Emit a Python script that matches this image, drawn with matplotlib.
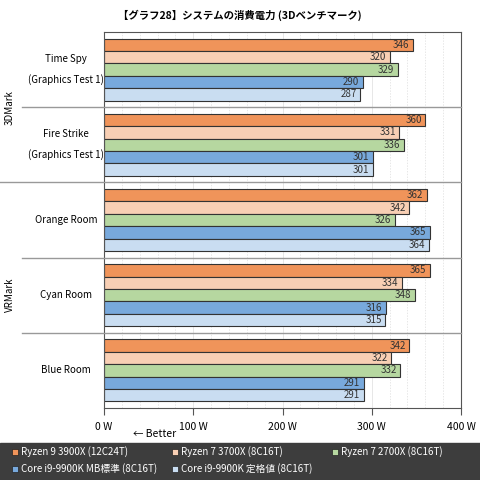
import matplotlib
matplotlib.use("Agg")
import matplotlib.pyplot as plt
from matplotlib.lines import Line2D
from matplotlib.patches import Rectangle

plt.rcParams['font.family'] = ['Noto Sans CJK JP', 'DejaVu Sans']

categories = ["Time Spy\n(Graphics Test 1)", "Fire Strike\n(Graphics Test 1)", "Orange Room", "Cyan Room", "Blue Room"]
groups = [("3DMark", 0, 2), ("VRMark", 2, 5)]
series = ["Ryzen 9 3900X (12C24T)", "Ryzen 7 3700X (8C16T)", "Ryzen 7 2700X (8C16T)",
          "Core i9-9900K MB標準 (8C16T)", "Core i9-9900K 定格値 (8C16T)"]
values = [
    [346, 360, 362, 365, 342],
    [320, 331, 342, 334, 322],
    [329, 336, 326, 348, 332],
    [290, 301, 365, 316, 291],
    [287, 301, 364, 315, 291],
]
colors = ["#f0945a", "#f8cfb4", "#b6d7a0", "#78a9dc", "#c9ddf1"]
xticks = [0, 100, 200, 300, 400]

W = H = 480
fig = plt.figure(figsize=(4.8, 4.8), dpi=100)
fig.patch.set_facecolor("white")
L, R, T, B = 104, 461, 32, 408
ax = fig.add_axes([L/W, 1-B/H, (R-L)/W, (B-T)/H])
n = len(categories)
ax.set_xlim(0, 400)
ax.set_ylim(n, 0)
bh = 12.4/75.2
for c in range(n):
    top = c + (1 - 5*bh)/2
    for s in range(5):
        y = top + s*bh + bh/2
        v = values[s][c]
        ax.barh(y, v, height=bh, color=colors[s], edgecolor="#333333", linewidth=0.8)
        ax.text(v - 4, y, str(v), ha="right", va="center", fontsize=7, color="#333333")
for x in range(20, 400, 20):
    ax.axvline(x, color="#dddddd", lw=0.5, ls=(0, (2, 2)) if x % 100 else "-", zorder=0)
ax.set_xticks(xticks)
ax.set_xticklabels([f"{t} W" for t in xticks], fontsize=7.5)
ax.set_yticks([])
ax.tick_params(axis="x", length=5, pad=5, color="#555555")
for sp in ax.spines.values():
    sp.set_color("#555555")

fig.text(0.5, 1-15/H, "【グラフ28】システムの消費電力 (3Dベンチマーク)", ha="center", va="center",
         fontsize=7.5, weight="bold")
fig.text(155/W, 1-434/H, "← Better", ha="center", va="center", fontsize=7.5)

ax.add_artist(Line2D([0, L/W], [1-T/H]*2, transform=fig.transFigure, color="#555555", lw=0.8))
ax.add_artist(Line2D([0, L/W], [1-B/H]*2, transform=fig.transFigure, color="#555555", lw=0.8))
ax.add_artist(Line2D([22/W]*2, [1-T/H, 1-B/H], transform=fig.transFigure, color="#555555", lw=0.8))
rowh = (B-T)/n
for c in range(n):
    yc = T + (c+0.5)*rowh
    fig.text(66/W, 1-yc/H, categories[c], ha="center", va="center", fontsize=7, linespacing=2.1)
    if c > 0:
        yb = T + c*rowh
        x0 = 0 if c == 2 else 22
        fig.add_artist(Line2D([x0/W, R/W], [1-yb/H]*2, color="#999999", lw=1.0))
for name, a, b in groups:
    yc = T + (a+b)/2*rowh
    fig.text(10/W, 1-yc/H, name, rotation=90, ha="center", va="center", fontsize=7)

fig.add_artist(Rectangle((0, 0), 1, 37/H, transform=fig.transFigure, color="#3d3d3d"))
pos = [(12, 452), (172, 452), (332, 452), (12, 469), (172, 469)]
for s, (x, y) in enumerate(pos):
    fig.add_artist(Rectangle((x/W, 1-(y+3)/H), 6/W, 6/H, transform=fig.transFigure,
                             facecolor=colors[s], edgecolor="#222222", lw=0.5))
    fig.text((x+9)/W, 1-y/H, series[s], ha="left", va="center", fontsize=7, color="white")

fig.savefig("out.png", dpi=100)
